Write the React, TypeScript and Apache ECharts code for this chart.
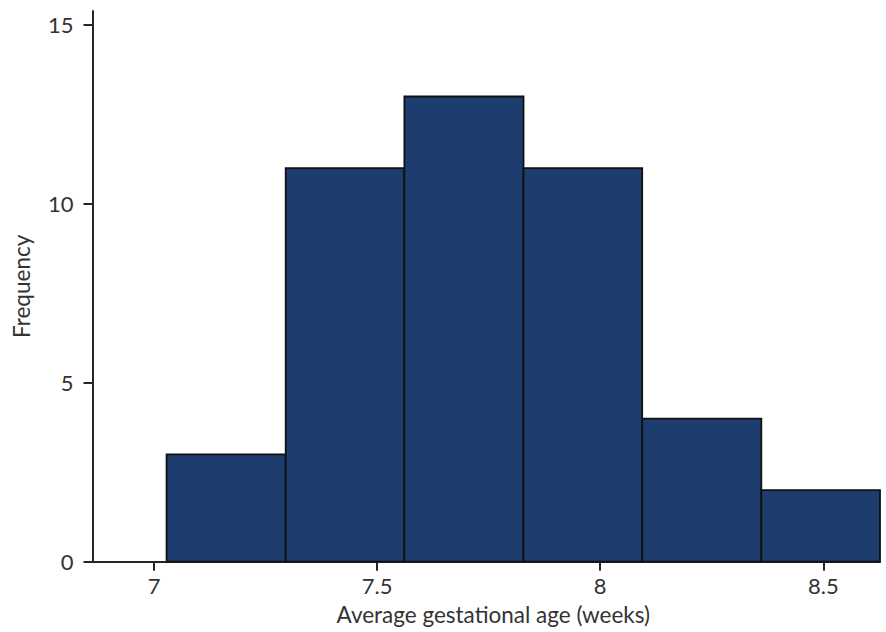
import React, { useEffect, useRef } from "react";
import * as echarts from "echarts";

const binStarts = [7.028, 7.295, 7.561, 7.828, 8.094, 8.361];
const binEnds = [7.295, 7.561, 7.828, 8.094, 8.361, 8.627];
const counts = [3, 11, 13, 11, 4, 2];
const xTicks = [7, 7.5, 8, 8.5];
const yTicks = [0, 5, 10, 15];

const FONT = "Lato";
const TEXT = "#333333";
const AXIS = "#262626";

export default function App() {
  const ref = useRef<HTMLDivElement>(null);
  useEffect(() => {
    document.body.style.margin = "0";
    if (!ref.current) return;
    const chart = echarts.init(ref.current, undefined, { renderer: "svg" });
    const data = binStarts.map((s, i) => [s, binEnds[i], counts[i]]);
    chart.setOption({
      animation: false,
      backgroundColor: "#ffffff",
      grid: { left: 92.5, right: 6, top: 11, bottom: 70.3 },
      xAxis: {
        type: "value",
        min: 6.862,
        max: 8.627,
        name: "Average gestational age (weeks)",
        nameLocation: "middle",
        nameGap: 41,
        nameTextStyle: { fontFamily: FONT, fontSize: 22.5, color: TEXT, padding: [0, 0, 0, 14] },
        axisLine: { show: true, onZero: false, lineStyle: { color: AXIS, width: 2 } },
        axisTick: { show: true, length: 9, lineStyle: { color: AXIS, width: 2 }, customValues: xTicks },
        axisLabel: { fontFamily: FONT, fontSize: 22, color: TEXT, margin: 13, customValues: xTicks },
        splitLine: { show: false },
      },
      yAxis: {
        type: "value",
        min: 0,
        max: 15.39,
        name: "Frequency",
        nameLocation: "middle",
        nameGap: 60,
        nameTextStyle: { fontFamily: FONT, fontSize: 22.5, color: TEXT },
        axisLine: { show: true, lineStyle: { color: AXIS, width: 2 } },
        axisTick: { show: true, length: 9, lineStyle: { color: AXIS, width: 2 }, customValues: yTicks },
        axisLabel: { fontFamily: FONT, fontSize: 22, color: TEXT, margin: 19, customValues: yTicks },
        splitLine: { show: false },
      },
      series: [
        {
          type: "custom",
          data,
          encode: { x: [0, 1], y: 2 },
          renderItem: (params: any, api: any) => {
            const tl = api.coord([api.value(0), api.value(2)]);
            const br = api.coord([api.value(1), 0]);
            return {
              type: "rect",
              shape: { x: tl[0], y: tl[1], width: br[0] - tl[0], height: br[1] - tl[1] },
              style: { fill: "#1d3d6e", stroke: "#111111", lineWidth: 1.8 },
            };
          },
        },
      ],
    });
    return () => chart.dispose();
  }, []);
  return <div ref={ref} style={{ width: 886, height: 632 }} />;
}
